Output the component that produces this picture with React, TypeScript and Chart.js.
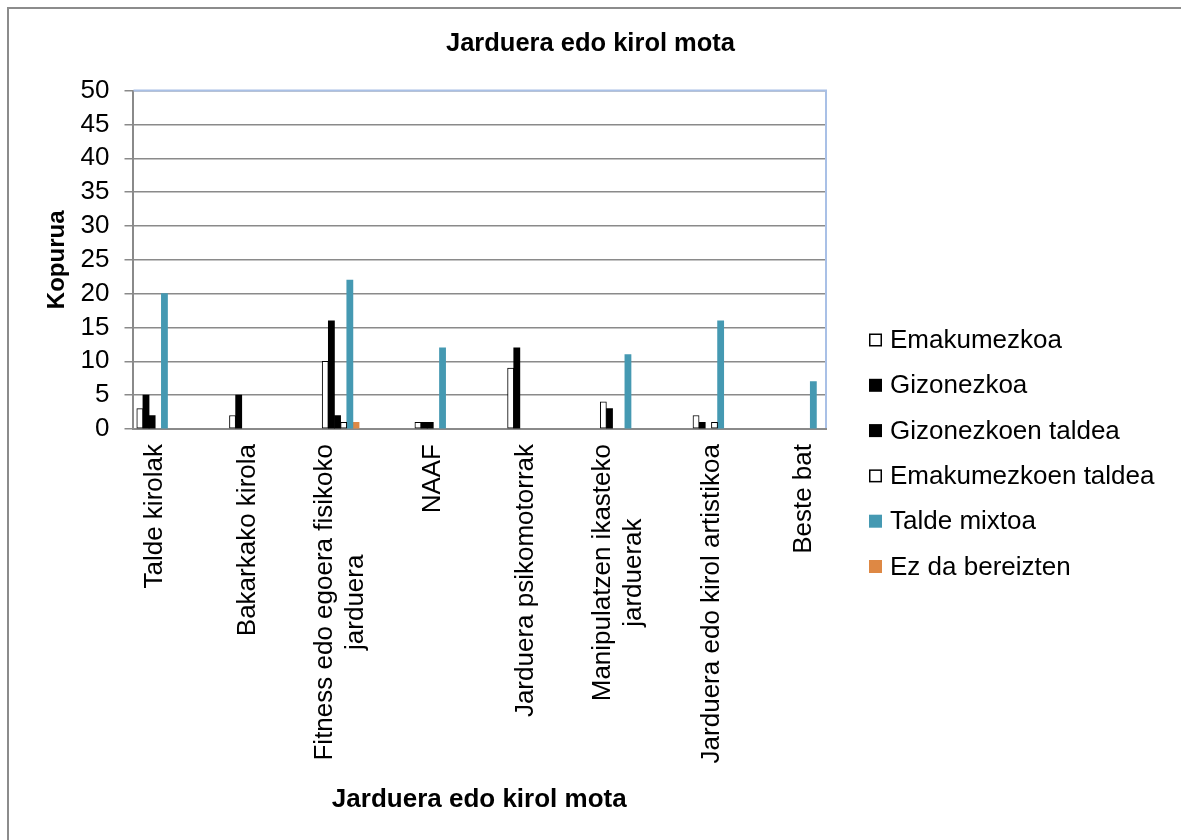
import React, { useEffect, useRef } from 'react';
import Chart from 'chart.js/auto';

const FONT = '"Liberation Sans", Arial, sans-serif';

const chartTitle = 'Jarduera edo kirol mota';
const xAxisTitle = 'Jarduera edo kirol mota';
const yAxisTitle = 'Kopurua';

const categories: string[][] = [
  ['Talde kirolak'],
  ['Bakarkako kirola'],
  ['Fitness edo egoera fisikoko', 'jarduera'],
  ['NAAF'],
  ['Jarduera psikomotorrak'],
  ['Manipulatzen ikasteko', 'jarduerak'],
  ['Jarduera edo kirol artistikoa'],
  ['Beste bat'],
];

const seriesNames = [
  'Emakumezkoa',
  'Gizonezkoa',
  'Gizonezkoen taldea',
  'Emakumezkoen taldea',
  'Talde mixtoa',
  'Ez da bereizten',
];

const emakumezkoa = [3, 2, 10, 1, 9, 4, 2, 0];
const gizonezkoa = [5, 5, 16, 1, 12, 3, 1, 0];
const gizonezkoenTaldea = [2, 0, 2, 1, 0, 0, 0, 0];
const emakumezkoenTaldea = [0, 0, 1, 0, 0, 0, 1, 0];
const taldeMixtoa = [20, 0, 22, 12, 0, 11, 16, 7];
const ezDaBereizten = [0, 0, 1, 0, 0, 0, 0, 0];

const yTickValues = [0, 5, 10, 15, 20, 25, 30, 35, 40, 45, 50];

const seriesValues = [
  emakumezkoa,
  gizonezkoa,
  gizonezkoenTaldea,
  emakumezkoenTaldea,
  taldeMixtoa,
  ezDaBereizten,
];
const seriesFill = ['#ffffff', '#000000', '#000000', '#ffffff', '#4599b2', '#de8844'];
const seriesBorder = ['#000000', '#000000', '#000000', '#000000', '#4599b2', '#de8844'];
const seriesBorderWidth = [1, 0, 0, 1, 0, 0];

const framePlugin = {
  id: 'frame',
  beforeDraw(chart: any) {
    const { ctx, width, height } = chart;
    ctx.save();
    ctx.fillStyle = '#ffffff';
    ctx.fillRect(0, 0, width, height);
    ctx.strokeStyle = '#8c8c8c';
    ctx.lineWidth = 2;
    ctx.beginPath();
    ctx.moveTo(8, height);
    ctx.lineTo(8, 8);
    ctx.lineTo(width, 8);
    ctx.stroke();
    ctx.restore();
  },
  afterDraw(chart: any) {
    const { ctx, chartArea } = chart;
    ctx.save();
    ctx.strokeStyle = '#a9c0e6';
    ctx.lineWidth = 2;
    ctx.beginPath();
    ctx.moveTo(chartArea.left + 1, chartArea.top);
    ctx.lineTo(chartArea.right, chartArea.top);
    ctx.lineTo(chartArea.right, chartArea.bottom - 1);
    ctx.stroke();
    ctx.restore();
  },
};

const catLabelPlugin = {
  id: 'catLabels',
  afterDraw(chart: any) {
    const { ctx } = chart;
    const xs = chart.scales.x;
    const base = chart.chartArea.bottom;
    ctx.save();
    ctx.font = `26px ${FONT}`;
    ctx.fillStyle = '#000000';
    ctx.textBaseline = 'middle';
    ctx.textAlign = 'center';
    const lh = 31;
    categories.forEach((lines, i) => {
      const x = xs.getPixelForValue(i);
      const W = Math.max(...lines.map((l) => ctx.measureText(l).width));
      ctx.save();
      ctx.translate(x, base + 15);
      ctx.rotate(-Math.PI / 2);
      lines.forEach((l, k) => {
        const v = (k - (lines.length - 1) / 2) * lh;
        ctx.fillText(l, -W / 2, v);
      });
      ctx.restore();
    });
    ctx.restore();
  },
};

const legendPlugin = {
  id: 'customLegend',
  afterDraw(chart: any) {
    const { ctx, chartArea } = chart;
    const boxX = chartArea.right + 43;
    const textX = boxX + 21;
    const firstY = 340;
    const step = 45.3;
    ctx.save();
    ctx.font = `26px ${FONT}`;
    ctx.textBaseline = 'middle';
    ctx.textAlign = 'left';
    seriesNames.forEach((name, k) => {
      const y = firstY + k * step;
      ctx.fillStyle = seriesFill[k];
      ctx.fillRect(boxX, y - 6.5, 13, 13);
      if (seriesBorderWidth[k] > 0) {
        ctx.strokeStyle = '#000000';
        ctx.lineWidth = 1.5;
        ctx.strokeRect(boxX + 0.75, y - 5.75, 11.5, 11.5);
      }
      ctx.fillStyle = '#000000';
      ctx.fillText(name, textX, y + 1);
    });
    ctx.restore();
  },
};

export default function App() {
  const ref = useRef<HTMLCanvasElement | null>(null);

  useEffect(() => {
    if (!ref.current) return;
    Chart.defaults.font.family = FONT;
    const chart = new Chart(ref.current, {
      type: 'bar',
      data: {
        datasets: seriesNames.map((name, s) => ({
          label: name,
          data: seriesValues[s].map((v, i) => ({ x: i, y: v === 0 ? null : v })),
          backgroundColor: seriesFill[s],
          borderColor: seriesBorder[s],
          borderWidth: seriesBorderWidth[s],
          borderSkipped: false,
          barThickness: 6.15,
        })),
      },
      options: {
        animation: false,
        responsive: false,
        maintainAspectRatio: false,
        layout: { padding: { left: 0, right: 0, top: 0, bottom: 0 } },
        plugins: {
          legend: { display: false },
          tooltip: { enabled: false },
          title: {
            display: true,
            text: chartTitle,
            color: '#000000',
            font: { size: 25.5, weight: 'bold', family: FONT },
            padding: { top: 29, bottom: 31 },
          },
        },
        scales: {
          x: {
            type: 'linear',
            offset: false,
            min: -0.245,
            max: 7.236,
            ticks: { display: false, stepSize: 1, includeBounds: false },
            grid: { display: false, offset: false },
            border: { display: true, color: '#8a8a8a', width: 2 },
            title: {
              display: true,
              text: xAxisTitle,
              color: '#000000',
              font: { size: 26, weight: 'bold', family: FONT },
              padding: { top: 0, bottom: 25 },
            },
            afterFit: (s: any) => {
              s.height = 411;
            },
          },
          y: {
            min: 0,
            max: 50,
            afterBuildTicks: (s: any) => {
              s.ticks = yTickValues.map((v) => ({ value: v }));
            },
            ticks: {
              color: '#000000',
              font: { size: 26, family: FONT },
              padding: 15,
              autoSkip: false,
            },
            grid: { color: '#8a8a8a', lineWidth: 1.5, tickLength: 8 },
            border: { display: true, color: '#8a8a8a', width: 2 },
            title: {
              display: true,
              text: yAxisTitle,
              color: '#000000',
              font: { size: 24, weight: 'bold', family: FONT },
              padding: { top: 43, bottom: 0 },
            },
            afterFit: (s: any) => {
              s.width = 132.5;
            },
          },
          yRight: {
            position: 'right',
            display: true,
            ticks: { display: false },
            grid: { display: false },
            border: { display: false },
            afterFit: (s: any) => {
              s.width = 355;
            },
          },
        },
      },
      plugins: [framePlugin, catLabelPlugin, legendPlugin],
    } as any);
    return () => chart.destroy();
  }, []);

  return (
    <div style={{ position: 'absolute', left: 0, top: 0, width: 1181, height: 840 }}>
      <canvas ref={ref} width={1181} height={840} style={{ width: 1181, height: 840, display: 'block' }} />
    </div>
  );
}
